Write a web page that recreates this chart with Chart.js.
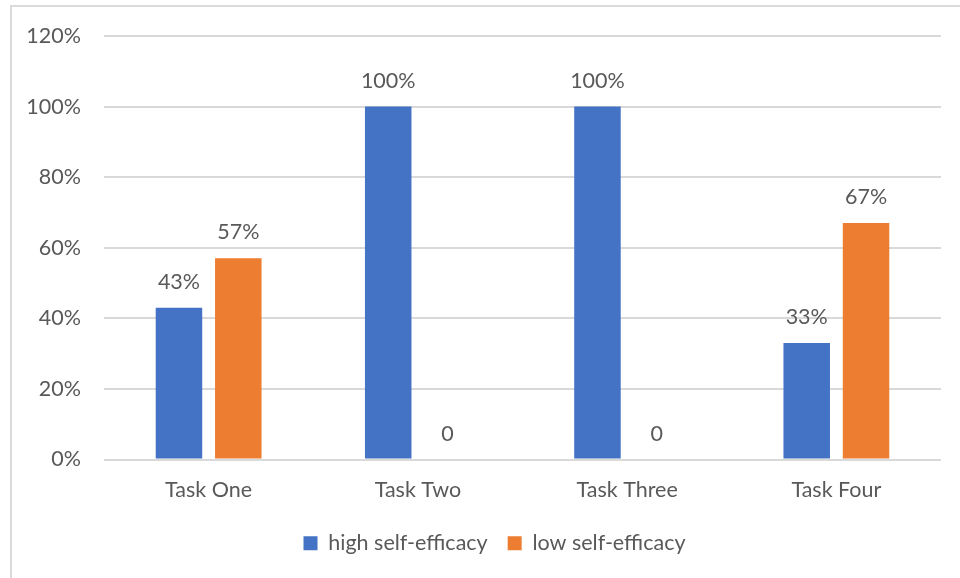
<!DOCTYPE html>
<html>
<head>
<meta charset="utf-8">
<script src="https://cdn.jsdelivr.net/npm/chart.js@4.4.1/dist/chart.umd.min.js"></script>
<style>
  html, body { margin: 0; padding: 0; background: #ffffff; }
  #wrap { position: relative; width: 960px; height: 578px; overflow: hidden; }
  #frame { position: absolute; left: 10px; top: 5px; width: 1200px; height: 1200px;
           border: 2px solid #dadada; box-sizing: border-box; }
  #c { position: absolute; left: 0; top: 0; }
</style>
</head>
<body>
<div id="wrap">
  <div id="frame"></div>
  <canvas id="c" width="960" height="578"></canvas>
</div>
<script>
// Tasks and the share of students in each self-efficacy group (percent)
const categories = ['Task One', 'Task Two', 'Task Three', 'Task Four'];
const highSelfEfficacy = [43, 100, 100, 33];
const lowSelfEfficacy = [57, 0, 0, 67];
const seriesNames = ['high self-efficacy', 'low self-efficacy'];
const yTicks = { min: 0, max: 120, step: 20 };

const FONT = 'Lato, "Liberation Sans", sans-serif';
const SIZE = 21.5;
const TEXT = '#595959';

// Writes the value above each bar; zero values are written as "0"
const valueLabels = {
  id: 'valueLabels',
  afterDatasetsDraw(chart) {
    const ctx = chart.ctx;
    ctx.save();
    ctx.font = SIZE + 'px ' + FONT;
    ctx.fillStyle = TEXT;
    ctx.textAlign = 'center';
    ctx.textBaseline = 'alphabetic';
    chart.data.datasets.forEach((ds, i) => {
      const meta = chart.getDatasetMeta(i);
      meta.data.forEach((bar, j) => {
        const v = ds.data[j];
        const txt = v === 0 ? '0' : v + '%';
        ctx.fillText(txt, bar.x, bar.y - 19);
      });
    });
    ctx.restore();
  }
};

// Centres the legend under the whole figure rather than the padded box
const legendShift = {
  id: 'legendShift',
  afterLayout(chart) {
    const lg = chart.legend;
    if (lg) { lg.left += 24; lg.right += 24; }
  }
};

new Chart(document.getElementById('c'), {
  type: 'bar',
  data: {
    labels: categories,
    datasets: [
      { label: seriesNames[0], data: highSelfEfficacy, backgroundColor: '#4472C4',
        categoryPercentage: 0.567, barPercentage: 0.784 },
      { label: seriesNames[1], data: lowSelfEfficacy, backgroundColor: '#ED7D31',
        categoryPercentage: 0.567, barPercentage: 0.784 }
    ]
  },
  options: {
    responsive: false,
    animation: false,
    layout: { padding: { left: 0, right: 19, top: 36, bottom: 14 } },
    scales: {
      x: {
        grid: { display: false },
        border: { display: false },
        ticks: { color: TEXT, font: { family: FONT, size: SIZE }, padding: 10 },
        afterFit(scale) { scale.height = 53; }
      },
      y: {
        min: yTicks.min, max: yTicks.max,
        grid: { color: '#d9d9d9', lineWidth: 2, drawTicks: false },
        border: { display: false },
        ticks: {
          stepSize: yTicks.step, color: TEXT, padding: 23,
          font: { family: FONT, size: SIZE },
          callback: v => v + '%'
        },
        afterFit(scale) { scale.width = 104; }
      }
    },
    plugins: {
      legend: {
        position: 'bottom',
        labels: { color: TEXT, font: { family: FONT, size: SIZE },
                  boxWidth: 14, boxHeight: 14, padding: 20 }
      },
      tooltip: { enabled: false }
    }
  },
  plugins: [valueLabels, legendShift]
});
</script>
</body>
</html>
